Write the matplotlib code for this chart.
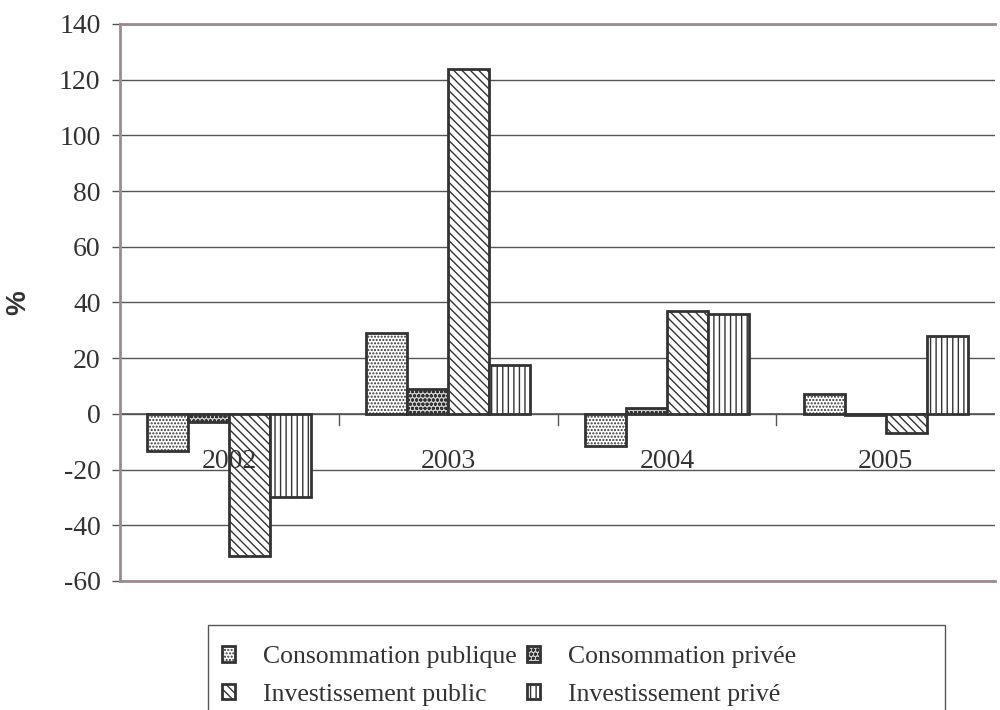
import numpy as np
import matplotlib
matplotlib.use('Agg')
import matplotlib.pyplot as plt
from matplotlib.patches import Rectangle

## Data
years = ['2002', '2003', '2004', '2005']
series = ['Consommation publique', 'Consommation privée',
          'Investissement public', 'Investissement privé']
conso_pub = [-13.5, 29, -11.5, 7]
conso_priv = [-3, 9, 2, -0.4]
invest_pub = [-51, 124, 37, -7]
invest_priv = [-30, 17.5, 36, 28]
values = [conso_pub, conso_priv, invest_pub, invest_priv]

hatches = ['.....', 'oooo', '\\\\\\\\', '|||']
faces = ['white', '#d0d0d0', 'white', 'white']

plt.rcParams['font.family'] = ['Liberation Serif', 'DejaVu Serif']
plt.rcParams['axes.unicode_minus'] = False
plt.rcParams['hatch.linewidth'] = 1.0
plt.rcParams['hatch.color'] = '#333333'

fig = plt.figure(figsize=(10, 7.1), dpi=100)
ax = fig.add_axes([0.12, 0.1817, 0.875, 0.7845])

x = np.arange(len(years))
w = 0.75 / 4
handles = []
for i, vals in enumerate(values):
    b = ax.bar(x - 0.375 + w * (i + 0.5), vals, w, facecolor=faces[i],
               edgecolor='#333333', linewidth=2, hatch=hatches[i],
               label=series[i], zorder=3)
    handles.append(b)

ax.set_xlim(-0.5, 3.5)
ax.set_ylim(-60, 140)
ax.set_yticks(np.arange(-60, 141, 20))
ax.tick_params(axis='y', labelsize=20, length=6, width=1, color='#555555',
               labelcolor='#333333', pad=8)
ax.yaxis.grid(True, color='#555555', linewidth=1)
ax.set_axisbelow(True)

# zero line with category ticks
ax.axhline(0, color='#555555', linewidth=1.2, zorder=2)
for xb in [0.5, 1.5, 2.5]:
    ax.plot([xb, xb], [0, -4], color='#555555', linewidth=1, zorder=2)
ax.set_xticks([])
for xi, yr in zip(x, years):
    ax.text(xi, -17, yr, ha='center', va='center', fontsize=20,
            color='#333333', zorder=4)

ax.spines['right'].set_visible(False)
for s in ['left', 'top', 'bottom']:
    ax.spines[s].set_color('#9a8c8c')
    ax.spines[s].set_linewidth(2)

ax.set_ylabel('%', fontsize=20, fontweight='bold', family='Liberation Sans',
              color='#333333', labelpad=20)

# legend filled row by row (matplotlib fills columns first)
order = [0, 2, 1, 3]
leg = fig.legend(handles=[handles[k] for k in order],
                 labels=[series[k] for k in order], ncol=2,
                 loc='upper left', bbox_to_anchor=(0.222, 0.09),
                 borderaxespad=0, frameon=False,
                 fontsize=18.5,
                 handlelength=0.5, handleheight=0.55, handletextpad=1.1,
                 columnspacing=0.4, borderpad=0, labelspacing=0.6)
for t in leg.get_texts():
    t.set_color('#333333')

# legend box, running off the bottom edge like the original
fig.patches.append(Rectangle((0.208, -0.01), 0.737, 0.13,
                             transform=fig.transFigure, fill=False,
                             edgecolor='#555555', linewidth=1))

fig.savefig('out.png', dpi=100)
